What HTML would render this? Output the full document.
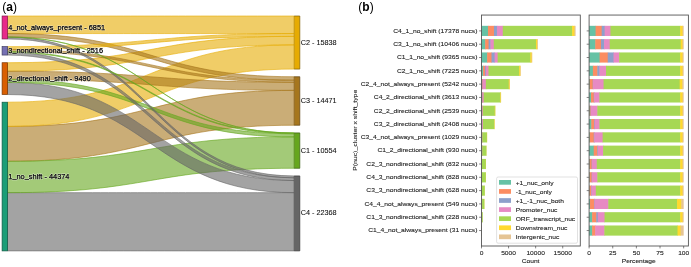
<!DOCTYPE html>
<html><head><meta charset="utf-8"><style>
html,body{margin:0;padding:0;background:#fff;width:691px;height:267px;overflow:hidden}
svg{display:block;will-change:transform;font-family:"Liberation Sans", sans-serif}
.sl{fill:#000;stroke:#000;stroke-width:0.25}
.hl{fill:#fff;stroke:#fff;stroke-opacity:0.5;fill-opacity:0.5;stroke-width:1.2;stroke-linejoin:round}
.ml{fill:#222;stroke:#222;stroke-width:0.1}
.rl{fill:#111;stroke:#111;stroke-width:0.08}
.tk{stroke:#333;stroke-width:0.6}
.ax{fill:none;stroke:#555;stroke-width:0.9}
</style></head><body>
<svg width="691" height="267" viewBox="0 0 691 267">
<text x="2.3" y="11.3" font-size="12" fill="#000">(<tspan font-weight="bold">a</tspan>)</text>
<text x="358.3" y="10.7" font-size="12" fill="#000">(<tspan font-weight="bold">b</tspan>)</text>
<path d="M7.5,192.67C150.85,192.67 150.85,192.67 294.2,192.67L294.2,250.9C150.85,250.9 150.85,250.9 7.5,250.9Z" fill="#666666" fill-opacity="0.6" stroke="#666666" stroke-opacity="0.6" stroke-width="1.0"/>
<path d="M7.5,126.41C150.85,126.41 150.85,90.37 294.2,90.37L294.2,125.24C150.85,125.24 150.85,161.28 7.5,161.28Z" fill="#a6761d" fill-opacity="0.6" stroke="#a6761d" stroke-opacity="0.6" stroke-width="1.0"/>
<path d="M7.5,161.28C150.85,161.28 150.85,136.89 294.2,136.89L294.2,168.27C150.85,168.27 150.85,192.67 7.5,192.67Z" fill="#66a61e" fill-opacity="0.6" stroke="#66a61e" stroke-opacity="0.6" stroke-width="1.0"/>
<path d="M7.5,102.2C150.85,102.2 150.85,44.86 294.2,44.86L294.2,69.07C150.85,69.07 150.85,126.41 7.5,126.41Z" fill="#e6ab02" fill-opacity="0.6" stroke="#e6ab02" stroke-opacity="0.6" stroke-width="1.0"/>
<path d="M7.5,16C150.85,16 150.85,16 294.2,16L294.2,33.57C150.85,33.57 150.85,33.57 7.5,33.57Z" fill="#e6ab02" fill-opacity="0.6" stroke="#e6ab02" stroke-opacity="0.6" stroke-width="1.0"/>
<path d="M7.5,82.42C150.85,82.42 150.85,180.56 294.2,180.56L294.2,192.67C150.85,192.67 150.85,94.53 7.5,94.53Z" fill="#666666" fill-opacity="0.6" stroke="#666666" stroke-opacity="0.6" stroke-width="1.0"/>
<path d="M7.5,62.73C150.85,62.73 150.85,36.35 294.2,36.35L294.2,44.86C150.85,44.86 150.85,71.24 7.5,71.24Z" fill="#e6ab02" fill-opacity="0.6" stroke="#e6ab02" stroke-opacity="0.6" stroke-width="1.0"/>
<path d="M7.5,71.24C150.85,71.24 150.85,82.3 294.2,82.3L294.2,90.37C150.85,90.37 150.85,79.31 7.5,79.31Z" fill="#a6761d" fill-opacity="0.6" stroke="#a6761d" stroke-opacity="0.6" stroke-width="1.0"/>
<path d="M7.5,33.57C150.85,33.57 150.85,76.74 294.2,76.74L294.2,80.19C150.85,80.19 150.85,37.01 7.5,37.01Z" fill="#a6761d" fill-opacity="0.6" stroke="#a6761d" stroke-opacity="0.6" stroke-width="1.0"/>
<path d="M7.5,79.31C150.85,79.31 150.85,133.77 294.2,133.77L294.2,136.89C150.85,136.89 150.85,82.42 7.5,82.42Z" fill="#66a61e" fill-opacity="0.6" stroke="#66a61e" stroke-opacity="0.6" stroke-width="1.0"/>
<path d="M7.5,46.63C150.85,46.63 150.85,33.57 294.2,33.57L294.2,36.35C150.85,36.35 150.85,49.42 7.5,49.42Z" fill="#e6ab02" fill-opacity="0.6" stroke="#e6ab02" stroke-opacity="0.6" stroke-width="1.0"/>
<path d="M7.5,52.28C150.85,52.28 150.85,177.78 294.2,177.78L294.2,180.56C150.85,180.56 150.85,55.06 7.5,55.06Z" fill="#666666" fill-opacity="0.6" stroke="#666666" stroke-opacity="0.6" stroke-width="1.0"/>
<path d="M7.5,49.42C150.85,49.42 150.85,80.19 294.2,80.19L294.2,82.3C150.85,82.3 150.85,51.52 7.5,51.52Z" fill="#a6761d" fill-opacity="0.6" stroke="#a6761d" stroke-opacity="0.6" stroke-width="1.0"/>
<path d="M7.5,37.12C150.85,37.12 150.85,175.94 294.2,175.94L294.2,177.78C150.85,177.78 150.85,38.96 7.5,38.96Z" fill="#666666" fill-opacity="0.6" stroke="#666666" stroke-opacity="0.6" stroke-width="1.0"/>
<path d="M7.5,51.52C150.85,51.52 150.85,133.01 294.2,133.01L294.2,133.77C150.85,133.77 150.85,52.28 7.5,52.28Z" fill="#66a61e" fill-opacity="0.6" stroke="#66a61e" stroke-opacity="0.6" stroke-width="1.0"/>
<path d="M7.5,37.01C150.85,37.01 150.85,132.91 294.2,132.91L294.2,133.01C150.85,133.01 150.85,37.12 7.5,37.12Z" fill="#66a61e" fill-opacity="0.6" stroke="#66a61e" stroke-opacity="0.6" stroke-width="1.0"/>
<rect x="2.1" y="16" width="5.4" height="22.96" fill="#e7298a" fill-opacity="1.0" stroke="#7f164b" stroke-width="0.7"/>
<rect x="2.1" y="46.63" width="5.4" height="8.43" fill="#7570b3" fill-opacity="1.0" stroke="#403d62" stroke-width="0.7"/>
<rect x="2.1" y="62.73" width="5.4" height="31.8" fill="#d95f02" fill-opacity="1.0" stroke="#773401" stroke-width="0.7"/>
<rect x="2.1" y="102.2" width="5.4" height="148.7" fill="#1b9e77" fill-opacity="1.0" stroke="#0e5641" stroke-width="0.7"/>
<rect x="294.2" y="16" width="5.6" height="53.07" fill="#e6ab02"/>
<path d="M294.2,16H299.8V69.07H294.2" fill="none" stroke="#7e5e01" stroke-width="0.7"/>
<path d="M294.2,16V69.07" fill="none" stroke="#7e5e01" stroke-opacity="0.5" stroke-width="0.7"/>
<rect x="294.2" y="76.74" width="5.6" height="48.49" fill="#a6761d"/>
<path d="M294.2,76.74H299.8V125.24H294.2" fill="none" stroke="#5b400f" stroke-width="0.7"/>
<path d="M294.2,76.74V125.24" fill="none" stroke="#5b400f" stroke-opacity="0.5" stroke-width="0.7"/>
<rect x="294.2" y="132.91" width="5.6" height="35.37" fill="#66a61e"/>
<path d="M294.2,132.91H299.8V168.27H294.2" fill="none" stroke="#385b10" stroke-width="0.7"/>
<path d="M294.2,132.91V168.27" fill="none" stroke="#385b10" stroke-opacity="0.5" stroke-width="0.7"/>
<rect x="294.2" y="175.94" width="5.6" height="74.96" fill="#666666"/>
<path d="M294.2,175.94H299.8V250.9H294.2" fill="none" stroke="#383838" stroke-width="0.7"/>
<path d="M294.2,175.94V250.9" fill="none" stroke="#383838" stroke-opacity="0.5" stroke-width="0.7"/>
<text x="8.3" y="30.08" font-size="7.39" class="hl">4<tspan dy="-1.0">_</tspan><tspan dy="1.0">not</tspan><tspan dy="-1.0">_</tspan><tspan dy="1.0">always</tspan><tspan dy="-1.0">_</tspan><tspan dy="1.0">present</tspan> - 6851</text>
<text x="8.3" y="30.08" font-size="7.39" class="sl">4<tspan dy="-1.0">_</tspan><tspan dy="1.0">not</tspan><tspan dy="-1.0">_</tspan><tspan dy="1.0">always</tspan><tspan dy="-1.0">_</tspan><tspan dy="1.0">present</tspan> - 6851</text>
<text x="8.3" y="53.44" font-size="7.39" class="hl">3<tspan dy="-1.0">_</tspan><tspan dy="1.0">nondirectional</tspan><tspan dy="-1.0">_</tspan><tspan dy="1.0">shift</tspan> - 2516</text>
<text x="8.3" y="53.44" font-size="7.39" class="sl">3<tspan dy="-1.0">_</tspan><tspan dy="1.0">nondirectional</tspan><tspan dy="-1.0">_</tspan><tspan dy="1.0">shift</tspan> - 2516</text>
<text x="8.3" y="81.23" font-size="7.39" class="hl">2<tspan dy="-1.0">_</tspan><tspan dy="1.0">directional</tspan><tspan dy="-1.0">_</tspan><tspan dy="1.0">shift</tspan> - 9490</text>
<text x="8.3" y="81.23" font-size="7.39" class="sl">2<tspan dy="-1.0">_</tspan><tspan dy="1.0">directional</tspan><tspan dy="-1.0">_</tspan><tspan dy="1.0">shift</tspan> - 9490</text>
<text x="8.3" y="179.15" font-size="7.39" class="hl">1<tspan dy="-1.0">_</tspan><tspan dy="1.0">no</tspan><tspan dy="-1.0">_</tspan><tspan dy="1.0">shift</tspan> - 44374</text>
<text x="8.3" y="179.15" font-size="7.39" class="sl">1<tspan dy="-1.0">_</tspan><tspan dy="1.0">no</tspan><tspan dy="-1.0">_</tspan><tspan dy="1.0">shift</tspan> - 44374</text>
<text x="300.7" y="44.59" font-size="7.25" class="rl">C2 - 15838</text>
<text x="300.7" y="103.04" font-size="7.25" class="rl">C3 - 14471</text>
<text x="300.7" y="152.64" font-size="7.25" class="rl">C1 - 10554</text>
<text x="300.7" y="215.47" font-size="7.25" class="rl">C4 - 22368</text>
<rect x="481.5" y="25.82" width="6.95" height="10.15" fill="#66c2a5"/>
<rect x="589.1" y="25.82" width="6.98" height="10.15" fill="#66c2a5"/>
<rect x="487.95" y="25.82" width="6.57" height="10.15" fill="#fc8d62"/>
<rect x="595.58" y="25.82" width="6.6" height="10.15" fill="#fc8d62"/>
<rect x="494.01" y="25.82" width="3.42" height="10.15" fill="#8da0cb"/>
<rect x="601.68" y="25.82" width="3.43" height="10.15" fill="#8da0cb"/>
<rect x="496.93" y="25.82" width="6.33" height="10.15" fill="#e78ac3"/>
<rect x="604.61" y="25.82" width="6.36" height="10.15" fill="#e78ac3"/>
<rect x="502.77" y="25.82" width="69.85" height="10.15" fill="#a6d854"/>
<rect x="610.47" y="25.82" width="70.2" height="10.15" fill="#a6d854"/>
<rect x="572.11" y="25.82" width="2.85" height="10.15" fill="#ffd92f"/>
<rect x="680.17" y="25.82" width="2.86" height="10.15" fill="#ffd92f"/>
<rect x="574.47" y="25.82" width="1.13" height="10.15" fill="#e5c494"/>
<rect x="682.54" y="25.82" width="1.13" height="10.15" fill="#e5c494"/>
<line x1="479.1" y1="30.9" x2="481.5" y2="30.9" class="tk"/>
<line x1="586.7" y1="30.9" x2="589.1" y2="30.9" class="tk"/>
<text transform="translate(477.4,32.7) scale(1.1,1)" font-size="6.1" text-anchor="end" class="ml">C4_1_no_shift (17378 nucs)</text>
<rect x="481.5" y="39.13" width="4.16" height="10.15" fill="#66c2a5"/>
<rect x="589.1" y="39.13" width="6.65" height="10.15" fill="#66c2a5"/>
<rect x="485.16" y="39.13" width="3.94" height="10.15" fill="#fc8d62"/>
<rect x="595.25" y="39.13" width="6.27" height="10.15" fill="#fc8d62"/>
<rect x="488.6" y="39.13" width="2.3" height="10.15" fill="#8da0cb"/>
<rect x="601.02" y="39.13" width="3.53" height="10.15" fill="#8da0cb"/>
<rect x="490.4" y="39.13" width="3.88" height="10.15" fill="#e78ac3"/>
<rect x="604.04" y="39.13" width="6.17" height="10.15" fill="#e78ac3"/>
<rect x="493.78" y="39.13" width="42.76" height="10.15" fill="#a6d854"/>
<rect x="609.72" y="39.13" width="71.43" height="10.15" fill="#a6d854"/>
<rect x="536.04" y="39.13" width="1.63" height="10.15" fill="#ffd92f"/>
<rect x="680.65" y="39.13" width="2.39" height="10.15" fill="#ffd92f"/>
<rect x="537.17" y="39.13" width="0.68" height="10.15" fill="#e5c494"/>
<rect x="682.54" y="39.13" width="1.13" height="10.15" fill="#e5c494"/>
<line x1="479.1" y1="44.21" x2="481.5" y2="44.21" class="tk"/>
<line x1="586.7" y1="44.21" x2="589.1" y2="44.21" class="tk"/>
<text transform="translate(477.4,46.01) scale(1.1,1)" font-size="6.1" text-anchor="end" class="ml">C3_1_no_shift (10406 nucs)</text>
<rect x="481.5" y="52.44" width="6.13" height="10.15" fill="#66c2a5"/>
<rect x="589.1" y="52.44" width="11" height="10.15" fill="#66c2a5"/>
<rect x="487.13" y="52.44" width="4.86" height="10.15" fill="#fc8d62"/>
<rect x="599.6" y="52.44" width="8.63" height="10.15" fill="#fc8d62"/>
<rect x="491.49" y="52.44" width="3.59" height="10.15" fill="#8da0cb"/>
<rect x="607.73" y="52.44" width="6.27" height="10.15" fill="#8da0cb"/>
<rect x="494.58" y="52.44" width="3.54" height="10.15" fill="#e78ac3"/>
<rect x="613.5" y="52.44" width="6.17" height="10.15" fill="#e78ac3"/>
<rect x="497.63" y="52.44" width="33.21" height="10.15" fill="#a6d854"/>
<rect x="619.17" y="52.44" width="61.5" height="10.15" fill="#a6d854"/>
<rect x="530.33" y="52.44" width="1.77" height="10.15" fill="#ffd92f"/>
<rect x="680.17" y="52.44" width="2.86" height="10.15" fill="#ffd92f"/>
<rect x="531.6" y="52.44" width="0.61" height="10.15" fill="#e5c494"/>
<rect x="682.54" y="52.44" width="1.13" height="10.15" fill="#e5c494"/>
<line x1="479.1" y1="57.52" x2="481.5" y2="57.52" class="tk"/>
<line x1="586.7" y1="57.52" x2="589.1" y2="57.52" class="tk"/>
<text transform="translate(477.4,59.32) scale(1.1,1)" font-size="6.1" text-anchor="end" class="ml">C1_1_no_shift (9365 nucs)</text>
<rect x="481.5" y="65.75" width="2.06" height="10.15" fill="#66c2a5"/>
<rect x="589.1" y="65.75" width="4.28" height="10.15" fill="#66c2a5"/>
<rect x="483.06" y="65.75" width="2.34" height="10.15" fill="#fc8d62"/>
<rect x="592.88" y="65.75" width="4.94" height="10.15" fill="#fc8d62"/>
<rect x="484.9" y="65.75" width="1.36" height="10.15" fill="#8da0cb"/>
<rect x="597.33" y="65.75" width="2.58" height="10.15" fill="#8da0cb"/>
<rect x="485.76" y="65.75" width="3.24" height="10.15" fill="#e78ac3"/>
<rect x="599.41" y="65.75" width="7.12" height="10.15" fill="#e78ac3"/>
<rect x="488.5" y="65.75" width="31.17" height="10.15" fill="#a6d854"/>
<rect x="606.03" y="65.75" width="74.64" height="10.15" fill="#a6d854"/>
<rect x="519.17" y="65.75" width="1.45" height="10.15" fill="#ffd92f"/>
<rect x="680.17" y="65.75" width="2.86" height="10.15" fill="#ffd92f"/>
<rect x="520.15" y="65.75" width="0.47" height="10.15" fill="#e5c494"/>
<rect x="682.54" y="65.75" width="1.13" height="10.15" fill="#e5c494"/>
<line x1="479.1" y1="70.83" x2="481.5" y2="70.83" class="tk"/>
<line x1="586.7" y1="70.83" x2="589.1" y2="70.83" class="tk"/>
<text transform="translate(477.4,72.63) scale(1.1,1)" font-size="6.1" text-anchor="end" class="ml">C2_1_no_shift (7225 nucs)</text>
<rect x="481.5" y="79.06" width="0.64" height="10.15" fill="#66c2a5"/>
<rect x="589.1" y="79.06" width="0.97" height="10.15" fill="#66c2a5"/>
<rect x="481.64" y="79.06" width="1.44" height="10.15" fill="#fc8d62"/>
<rect x="589.57" y="79.06" width="3.62" height="10.15" fill="#fc8d62"/>
<rect x="482.58" y="79.06" width="0.59" height="10.15" fill="#8da0cb"/>
<rect x="592.69" y="79.06" width="0.78" height="10.15" fill="#8da0cb"/>
<rect x="482.66" y="79.06" width="3.68" height="10.15" fill="#e78ac3"/>
<rect x="592.98" y="79.06" width="11.09" height="10.15" fill="#e78ac3"/>
<rect x="485.84" y="79.06" width="23.35" height="10.15" fill="#a6d854"/>
<rect x="603.57" y="79.06" width="76.63" height="10.15" fill="#a6d854"/>
<rect x="508.69" y="79.06" width="1.19" height="10.15" fill="#ffd92f"/>
<rect x="679.7" y="79.06" width="3.15" height="10.15" fill="#ffd92f"/>
<rect x="509.49" y="79.06" width="0.4" height="10.15" fill="#e5c494"/>
<rect x="682.35" y="79.06" width="1.32" height="10.15" fill="#e5c494"/>
<line x1="479.1" y1="84.14" x2="481.5" y2="84.14" class="tk"/>
<line x1="586.7" y1="84.14" x2="589.1" y2="84.14" class="tk"/>
<text transform="translate(477.4,85.94) scale(1.1,1)" font-size="6.1" text-anchor="end" class="ml">C2_4_not_always_present (5242 nucs)</text>
<rect x="481.5" y="92.37" width="0.89" height="10.15" fill="#66c2a5"/>
<rect x="589.1" y="92.37" width="2.39" height="10.15" fill="#66c2a5"/>
<rect x="481.89" y="92.37" width="1.07" height="10.15" fill="#fc8d62"/>
<rect x="590.99" y="92.37" width="3.24" height="10.15" fill="#fc8d62"/>
<rect x="482.46" y="92.37" width="0.6" height="10.15" fill="#8da0cb"/>
<rect x="593.73" y="92.37" width="0.97" height="10.15" fill="#8da0cb"/>
<rect x="482.56" y="92.37" width="1.58" height="10.15" fill="#e78ac3"/>
<rect x="594.21" y="92.37" width="5.7" height="10.15" fill="#e78ac3"/>
<rect x="483.63" y="92.37" width="17.21" height="10.15" fill="#a6d854"/>
<rect x="599.41" y="92.37" width="81.26" height="10.15" fill="#a6d854"/>
<rect x="500.34" y="92.37" width="0.72" height="10.15" fill="#ffd92f"/>
<rect x="680.17" y="92.37" width="2.86" height="10.15" fill="#ffd92f"/>
<rect x="500.83" y="92.37" width="0.23" height="10.15" fill="#e5c494"/>
<rect x="682.54" y="92.37" width="1.13" height="10.15" fill="#e5c494"/>
<line x1="479.1" y1="97.45" x2="481.5" y2="97.45" class="tk"/>
<line x1="586.7" y1="97.45" x2="589.1" y2="97.45" class="tk"/>
<text transform="translate(477.4,99.25) scale(1.1,1)" font-size="6.1" text-anchor="end" class="ml">C4_2_directional_shift (3613 nucs)</text>
<rect x="481.5" y="105.68" width="0.57" height="10.15" fill="#66c2a5"/>
<rect x="589.1" y="105.68" width="0.97" height="10.15" fill="#66c2a5"/>
<rect x="481.57" y="105.68" width="0.65" height="10.15" fill="#fc8d62"/>
<rect x="589.57" y="105.68" width="1.54" height="10.15" fill="#fc8d62"/>
<rect x="481.72" y="105.68" width="0.54" height="10.15" fill="#8da0cb"/>
<rect x="590.61" y="105.68" width="0.78" height="10.15" fill="#8da0cb"/>
<rect x="481.76" y="105.68" width="1.43" height="10.15" fill="#e78ac3"/>
<rect x="590.9" y="105.68" width="6.93" height="10.15" fill="#e78ac3"/>
<rect x="482.7" y="105.68" width="12.54" height="10.15" fill="#a6d854"/>
<rect x="597.33" y="105.68" width="83.34" height="10.15" fill="#a6d854"/>
<rect x="494.74" y="105.68" width="0.51" height="10.15" fill="#ffd92f"/>
<rect x="680.17" y="105.68" width="2.86" height="10.15" fill="#ffd92f"/>
<rect x="495.08" y="105.68" width="0.16" height="10.15" fill="#e5c494"/>
<rect x="682.54" y="105.68" width="1.13" height="10.15" fill="#e5c494"/>
<line x1="479.1" y1="110.76" x2="481.5" y2="110.76" class="tk"/>
<line x1="586.7" y1="110.76" x2="589.1" y2="110.76" class="tk"/>
<text transform="translate(477.4,112.56) scale(1.1,1)" font-size="6.1" text-anchor="end" class="ml">C2_2_directional_shift (2539 nucs)</text>
<rect x="481.5" y="118.99" width="0.8" height="10.15" fill="#66c2a5"/>
<rect x="589.1" y="118.99" width="2.68" height="10.15" fill="#66c2a5"/>
<rect x="481.8" y="118.99" width="0.9" height="10.15" fill="#fc8d62"/>
<rect x="591.28" y="118.99" width="3.43" height="10.15" fill="#fc8d62"/>
<rect x="482.2" y="118.99" width="0.57" height="10.15" fill="#8da0cb"/>
<rect x="594.21" y="118.99" width="0.97" height="10.15" fill="#8da0cb"/>
<rect x="482.27" y="118.99" width="1.15" height="10.15" fill="#e78ac3"/>
<rect x="594.68" y="118.99" width="5.23" height="10.15" fill="#e78ac3"/>
<rect x="482.92" y="118.99" width="11.62" height="10.15" fill="#a6d854"/>
<rect x="599.41" y="118.99" width="81.26" height="10.15" fill="#a6d854"/>
<rect x="494.06" y="118.99" width="0.48" height="10.15" fill="#ffd92f"/>
<rect x="680.17" y="118.99" width="2.86" height="10.15" fill="#ffd92f"/>
<rect x="494.38" y="118.99" width="0.16" height="10.15" fill="#e5c494"/>
<rect x="682.54" y="118.99" width="1.13" height="10.15" fill="#e5c494"/>
<line x1="479.1" y1="124.07" x2="481.5" y2="124.07" class="tk"/>
<line x1="586.7" y1="124.07" x2="589.1" y2="124.07" class="tk"/>
<text transform="translate(477.4,125.87) scale(1.1,1)" font-size="6.1" text-anchor="end" class="ml">C3_2_directional_shift (2408 nucs)</text>
<rect x="481.5" y="132.31" width="0.53" height="10.15" fill="#66c2a5"/>
<rect x="589.1" y="132.31" width="1.07" height="10.15" fill="#66c2a5"/>
<rect x="481.53" y="132.31" width="0.74" height="10.15" fill="#fc8d62"/>
<rect x="589.67" y="132.31" width="4.57" height="10.15" fill="#fc8d62"/>
<rect x="481.77" y="132.31" width="0.53" height="10.15" fill="#8da0cb"/>
<rect x="593.73" y="132.31" width="1.07" height="10.15" fill="#8da0cb"/>
<rect x="481.81" y="132.31" width="0.99" height="10.15" fill="#e78ac3"/>
<rect x="594.3" y="132.31" width="8.82" height="10.15" fill="#e78ac3"/>
<rect x="482.3" y="132.31" width="4.77" height="10.15" fill="#a6d854"/>
<rect x="602.62" y="132.31" width="78.05" height="10.15" fill="#a6d854"/>
<rect x="486.87" y="132.31" width="0.21" height="10.15" fill="#ffd92f"/>
<rect x="680.17" y="132.31" width="2.86" height="10.15" fill="#ffd92f"/>
<rect x="487" y="132.31" width="0.07" height="10.15" fill="#e5c494"/>
<rect x="682.54" y="132.31" width="1.13" height="10.15" fill="#e5c494"/>
<line x1="479.1" y1="137.38" x2="481.5" y2="137.38" class="tk"/>
<line x1="586.7" y1="137.38" x2="589.1" y2="137.38" class="tk"/>
<text transform="translate(477.4,139.18) scale(1.1,1)" font-size="6.1" text-anchor="end" class="ml">C3_4_not_always_present (1029 nucs)</text>
<rect x="481.5" y="145.62" width="0.75" height="10.15" fill="#66c2a5"/>
<rect x="589.1" y="145.62" width="5.13" height="10.15" fill="#66c2a5"/>
<rect x="481.75" y="145.62" width="0.69" height="10.15" fill="#fc8d62"/>
<rect x="593.73" y="145.62" width="4.09" height="10.15" fill="#fc8d62"/>
<rect x="481.94" y="145.62" width="0.53" height="10.15" fill="#8da0cb"/>
<rect x="597.33" y="145.62" width="1.07" height="10.15" fill="#8da0cb"/>
<rect x="481.97" y="145.62" width="0.78" height="10.15" fill="#e78ac3"/>
<rect x="597.9" y="145.62" width="5.7" height="10.15" fill="#e78ac3"/>
<rect x="482.25" y="145.62" width="4.29" height="10.15" fill="#a6d854"/>
<rect x="603.1" y="145.62" width="77.58" height="10.15" fill="#a6d854"/>
<rect x="486.35" y="145.62" width="0.19" height="10.15" fill="#ffd92f"/>
<rect x="680.17" y="145.62" width="2.86" height="10.15" fill="#ffd92f"/>
<rect x="486.48" y="145.62" width="0.06" height="10.15" fill="#e5c494"/>
<rect x="682.54" y="145.62" width="1.13" height="10.15" fill="#e5c494"/>
<line x1="479.1" y1="150.69" x2="481.5" y2="150.69" class="tk"/>
<line x1="586.7" y1="150.69" x2="589.1" y2="150.69" class="tk"/>
<text transform="translate(477.4,152.49) scale(1.1,1)" font-size="6.1" text-anchor="end" class="ml">C1_2_directional_shift (930 nucs)</text>
<rect x="481.5" y="158.93" width="0.52" height="10.15" fill="#66c2a5"/>
<rect x="589.1" y="158.93" width="0.88" height="10.15" fill="#66c2a5"/>
<rect x="481.52" y="158.93" width="0.6" height="10.15" fill="#fc8d62"/>
<rect x="589.48" y="158.93" width="2.68" height="10.15" fill="#fc8d62"/>
<rect x="481.62" y="158.93" width="0.51" height="10.15" fill="#8da0cb"/>
<rect x="591.65" y="158.93" width="0.78" height="10.15" fill="#8da0cb"/>
<rect x="481.64" y="158.93" width="0.73" height="10.15" fill="#e78ac3"/>
<rect x="591.94" y="158.93" width="5.32" height="10.15" fill="#e78ac3"/>
<rect x="481.86" y="158.93" width="4.14" height="10.15" fill="#a6d854"/>
<rect x="596.76" y="158.93" width="83.91" height="10.15" fill="#a6d854"/>
<rect x="485.84" y="158.93" width="0.17" height="10.15" fill="#ffd92f"/>
<rect x="680.17" y="158.93" width="2.86" height="10.15" fill="#ffd92f"/>
<rect x="485.95" y="158.93" width="0.05" height="10.15" fill="#e5c494"/>
<rect x="682.54" y="158.93" width="1.13" height="10.15" fill="#e5c494"/>
<line x1="479.1" y1="164" x2="481.5" y2="164" class="tk"/>
<line x1="586.7" y1="164" x2="589.1" y2="164" class="tk"/>
<text transform="translate(477.4,165.8) scale(1.1,1)" font-size="6.1" text-anchor="end" class="ml">C2_3_nondirectional_shift (832 nucs)</text>
<rect x="481.5" y="172.24" width="0.52" height="10.15" fill="#66c2a5"/>
<rect x="589.1" y="172.24" width="0.88" height="10.15" fill="#66c2a5"/>
<rect x="481.52" y="172.24" width="0.6" height="10.15" fill="#fc8d62"/>
<rect x="589.48" y="172.24" width="2.68" height="10.15" fill="#fc8d62"/>
<rect x="481.62" y="172.24" width="0.51" height="10.15" fill="#8da0cb"/>
<rect x="591.65" y="172.24" width="0.78" height="10.15" fill="#8da0cb"/>
<rect x="481.63" y="172.24" width="0.76" height="10.15" fill="#e78ac3"/>
<rect x="591.94" y="172.24" width="5.89" height="10.15" fill="#e78ac3"/>
<rect x="481.89" y="172.24" width="4.09" height="10.15" fill="#a6d854"/>
<rect x="597.33" y="172.24" width="83.34" height="10.15" fill="#a6d854"/>
<rect x="485.82" y="172.24" width="0.17" height="10.15" fill="#ffd92f"/>
<rect x="680.17" y="172.24" width="2.86" height="10.15" fill="#ffd92f"/>
<rect x="485.93" y="172.24" width="0.05" height="10.15" fill="#e5c494"/>
<rect x="682.54" y="172.24" width="1.13" height="10.15" fill="#e5c494"/>
<line x1="479.1" y1="177.31" x2="481.5" y2="177.31" class="tk"/>
<line x1="586.7" y1="177.31" x2="589.1" y2="177.31" class="tk"/>
<text transform="translate(477.4,179.11) scale(1.1,1)" font-size="6.1" text-anchor="end" class="ml">C4_3_nondirectional_shift (828 nucs)</text>
<rect x="481.5" y="185.55" width="0.51" height="10.15" fill="#66c2a5"/>
<rect x="589.1" y="185.55" width="0.78" height="10.15" fill="#66c2a5"/>
<rect x="481.51" y="185.55" width="0.57" height="10.15" fill="#fc8d62"/>
<rect x="589.38" y="185.55" width="2.39" height="10.15" fill="#fc8d62"/>
<rect x="481.58" y="185.55" width="0.51" height="10.15" fill="#8da0cb"/>
<rect x="591.28" y="185.55" width="0.69" height="10.15" fill="#8da0cb"/>
<rect x="481.59" y="185.55" width="0.66" height="10.15" fill="#e78ac3"/>
<rect x="591.46" y="185.55" width="4.85" height="10.15" fill="#e78ac3"/>
<rect x="481.74" y="185.55" width="3.16" height="10.15" fill="#a6d854"/>
<rect x="595.81" y="185.55" width="84.86" height="10.15" fill="#a6d854"/>
<rect x="484.77" y="185.55" width="0.13" height="10.15" fill="#ffd92f"/>
<rect x="680.17" y="185.55" width="2.86" height="10.15" fill="#ffd92f"/>
<rect x="484.86" y="185.55" width="0.04" height="10.15" fill="#e5c494"/>
<rect x="682.54" y="185.55" width="1.13" height="10.15" fill="#e5c494"/>
<line x1="479.1" y1="190.62" x2="481.5" y2="190.62" class="tk"/>
<line x1="586.7" y1="190.62" x2="589.1" y2="190.62" class="tk"/>
<text transform="translate(477.4,192.42) scale(1.1,1)" font-size="6.1" text-anchor="end" class="ml">C3_3_nondirectional_shift (628 nucs)</text>
<rect x="481.5" y="198.86" width="0.53" height="10.15" fill="#66c2a5"/>
<rect x="589.1" y="198.86" width="1.45" height="10.15" fill="#66c2a5"/>
<rect x="481.53" y="198.86" width="0.63" height="10.15" fill="#fc8d62"/>
<rect x="590.05" y="198.86" width="4.66" height="10.15" fill="#fc8d62"/>
<rect x="481.66" y="198.86" width="0.51" height="10.15" fill="#8da0cb"/>
<rect x="594.21" y="198.86" width="0.78" height="10.15" fill="#8da0cb"/>
<rect x="481.67" y="198.86" width="0.93" height="10.15" fill="#e78ac3"/>
<rect x="594.49" y="198.86" width="14.31" height="10.15" fill="#e78ac3"/>
<rect x="482.1" y="198.86" width="2.37" height="10.15" fill="#a6d854"/>
<rect x="608.3" y="198.86" width="69.25" height="10.15" fill="#a6d854"/>
<rect x="484.26" y="198.86" width="0.21" height="10.15" fill="#ffd92f"/>
<rect x="677.05" y="198.86" width="4.76" height="10.15" fill="#ffd92f"/>
<rect x="484.4" y="198.86" width="0.07" height="10.15" fill="#e5c494"/>
<rect x="681.31" y="198.86" width="2.36" height="10.15" fill="#e5c494"/>
<line x1="479.1" y1="203.93" x2="481.5" y2="203.93" class="tk"/>
<line x1="586.7" y1="203.93" x2="589.1" y2="203.93" class="tk"/>
<text transform="translate(477.4,205.73) scale(1.1,1)" font-size="6.1" text-anchor="end" class="ml">C4_4_not_always_present (549 nucs)</text>
<rect x="481.5" y="212.17" width="0.54" height="10.15" fill="#66c2a5"/>
<rect x="589.1" y="212.17" width="3.53" height="10.15" fill="#66c2a5"/>
<rect x="481.54" y="212.17" width="0.55" height="10.15" fill="#fc8d62"/>
<rect x="592.13" y="212.17" width="4.66" height="10.15" fill="#fc8d62"/>
<rect x="481.59" y="212.17" width="0.52" height="10.15" fill="#8da0cb"/>
<rect x="596.29" y="212.17" width="2.01" height="10.15" fill="#8da0cb"/>
<rect x="481.61" y="212.17" width="0.59" height="10.15" fill="#e78ac3"/>
<rect x="597.8" y="212.17" width="7.21" height="10.15" fill="#e78ac3"/>
<rect x="481.7" y="212.17" width="1.03" height="10.15" fill="#a6d854"/>
<rect x="604.52" y="212.17" width="76.16" height="10.15" fill="#a6d854"/>
<rect x="482.69" y="212.17" width="0.05" height="10.15" fill="#ffd92f"/>
<rect x="680.17" y="212.17" width="2.86" height="10.15" fill="#ffd92f"/>
<rect x="482.72" y="212.17" width="0.01" height="10.15" fill="#e5c494"/>
<rect x="682.54" y="212.17" width="1.13" height="10.15" fill="#e5c494"/>
<line x1="479.1" y1="217.24" x2="481.5" y2="217.24" class="tk"/>
<line x1="586.7" y1="217.24" x2="589.1" y2="217.24" class="tk"/>
<text transform="translate(477.4,219.04) scale(1.1,1)" font-size="6.1" text-anchor="end" class="ml">C1_3_nondirectional_shift (228 nucs)</text>
<rect x="481.5" y="225.48" width="0.17" height="10.15" fill="#66c2a5"/>
<rect x="589.1" y="225.48" width="3.53" height="10.15" fill="#66c2a5"/>
<rect x="481.51" y="225.48" width="0.16" height="10.15" fill="#fc8d62"/>
<rect x="592.13" y="225.48" width="3.53" height="10.15" fill="#fc8d62"/>
<rect x="481.51" y="225.48" width="0.16" height="10.15" fill="#e78ac3"/>
<rect x="595.15" y="225.48" width="9.67" height="10.15" fill="#e78ac3"/>
<rect x="481.53" y="225.48" width="0.14" height="10.15" fill="#a6d854"/>
<rect x="604.33" y="225.48" width="73.7" height="10.15" fill="#a6d854"/>
<rect x="481.66" y="225.48" width="0.01" height="10.15" fill="#ffd92f"/>
<rect x="677.52" y="225.48" width="3.53" height="10.15" fill="#ffd92f"/>
<rect x="481.66" y="225.48" width="0.01" height="10.15" fill="#e5c494"/>
<rect x="680.55" y="225.48" width="3.12" height="10.15" fill="#e5c494"/>
<line x1="479.1" y1="230.55" x2="481.5" y2="230.55" class="tk"/>
<line x1="586.7" y1="230.55" x2="589.1" y2="230.55" class="tk"/>
<text transform="translate(477.4,232.35) scale(1.1,1)" font-size="6.1" text-anchor="end" class="ml">C1_4_not_always_present (31 nucs)</text>
<rect x="481.5" y="15.05" width="98.8" height="230.95" class="ax"/>
<rect x="589.1" y="15.05" width="99.3" height="230.95" class="ax"/>
<line x1="481.5" y1="246" x2="481.5" y2="248.4" class="tk"/>
<text transform="translate(481.5,255.2) scale(1.09,1)" font-size="6.1" text-anchor="middle" class="ml">0</text>
<line x1="508.57" y1="246" x2="508.57" y2="248.4" class="tk"/>
<text transform="translate(508.57,255.2) scale(1.09,1)" font-size="6.1" text-anchor="middle" class="ml">5000</text>
<line x1="535.65" y1="246" x2="535.65" y2="248.4" class="tk"/>
<text transform="translate(535.65,255.2) scale(1.09,1)" font-size="6.1" text-anchor="middle" class="ml">10000</text>
<line x1="562.72" y1="246" x2="562.72" y2="248.4" class="tk"/>
<text transform="translate(562.72,255.2) scale(1.09,1)" font-size="6.1" text-anchor="middle" class="ml">15000</text>
<line x1="589.1" y1="246" x2="589.1" y2="248.4" class="tk"/>
<text transform="translate(589.1,255.2) scale(1.09,1)" font-size="6.1" text-anchor="middle" class="ml">0</text>
<line x1="612.74" y1="246" x2="612.74" y2="248.4" class="tk"/>
<text transform="translate(612.74,255.2) scale(1.09,1)" font-size="6.1" text-anchor="middle" class="ml">25</text>
<line x1="636.39" y1="246" x2="636.39" y2="248.4" class="tk"/>
<text transform="translate(636.39,255.2) scale(1.09,1)" font-size="6.1" text-anchor="middle" class="ml">50</text>
<line x1="660.03" y1="246" x2="660.03" y2="248.4" class="tk"/>
<text transform="translate(660.03,255.2) scale(1.09,1)" font-size="6.1" text-anchor="middle" class="ml">75</text>
<line x1="683.67" y1="246" x2="683.67" y2="248.4" class="tk"/>
<text transform="translate(683.67,255.2) scale(1.09,1)" font-size="6.1" text-anchor="middle" class="ml">100</text>
<text transform="translate(530.55,262.8) scale(1.09,1)" font-size="6.1" text-anchor="middle" class="ml">Count</text>
<text transform="translate(638.7,263.1) scale(1.09,1)" font-size="6.1" text-anchor="middle" class="ml">Percentage</text>
<text transform="translate(357.2,130.3) rotate(-90) scale(1.13,1)" font-size="6.1" text-anchor="middle" class="ml">P(nuc)_cluster x shift_type</text>
<rect x="496.6" y="177.0" width="80.9" height="66.2" rx="1.5" fill="#fff" fill-opacity="0.8" stroke="#ccc" stroke-width="0.6"/>
<rect x="499" y="180" width="12" height="4.7" fill="#66c2a5"/>
<text transform="translate(515.7,184.6) scale(1.09,1)" font-size="6.1" class="ml">+1_nuc_only</text>
<rect x="499" y="189.08" width="12" height="4.7" fill="#fc8d62"/>
<text transform="translate(515.7,193.68) scale(1.09,1)" font-size="6.1" class="ml">-1_nuc_only</text>
<rect x="499" y="198.16" width="12" height="4.7" fill="#8da0cb"/>
<text transform="translate(515.7,202.76) scale(1.09,1)" font-size="6.1" class="ml">+1_-1_nuc_both</text>
<rect x="499" y="207.24" width="12" height="4.7" fill="#e78ac3"/>
<text transform="translate(515.7,211.84) scale(1.09,1)" font-size="6.1" class="ml">Promoter_nuc</text>
<rect x="499" y="216.32" width="12" height="4.7" fill="#a6d854"/>
<text transform="translate(515.7,220.92) scale(1.09,1)" font-size="6.1" class="ml">ORF_transcript_nuc</text>
<rect x="499" y="225.4" width="12" height="4.7" fill="#ffd92f"/>
<text transform="translate(515.7,230) scale(1.09,1)" font-size="6.1" class="ml">Downstream_nuc</text>
<rect x="499" y="234.48" width="12" height="4.7" fill="#e5c494"/>
<text transform="translate(515.7,239.08) scale(1.09,1)" font-size="6.1" class="ml">Intergenic_nuc</text>
</svg>
</body></html>
